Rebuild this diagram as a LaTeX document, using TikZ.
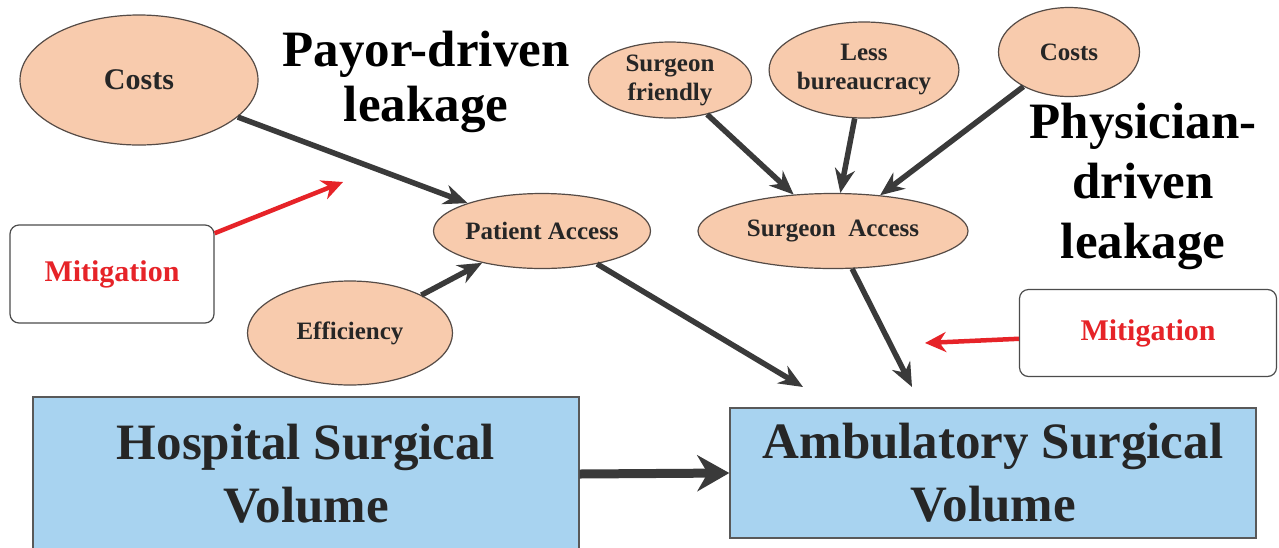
\documentclass[tikz,border=0pt]{standalone}
\usepackage{fontspec}
\setmainfont{Liberation Serif}
\usetikzlibrary{shapes.geometric,arrows.meta}

\definecolor{peach}{RGB}{248,203,173}
\definecolor{skyfill}{RGB}{168,211,240}
\definecolor{darkarrow}{RGB}{58,58,58}
\definecolor{mitred}{RGB}{230,35,40}
\definecolor{rimgray}{RGB}{85,75,70}

\newcommand{\txtsize}[2]{\fontsize{#1}{#2}\selectfont}

\begin{document}
\begin{tikzpicture}[x=1pt,y=-1pt,
  factor/.style={ellipse,draw=rimgray,line width=1.2pt,fill=peach,inner sep=0pt,
    font=\bfseries\txtsize{25}{29},align=center,text=black!85},
  volbox/.style={rectangle,draw=black!65,line width=1.4pt,fill=skyfill,inner sep=0pt,
    font=\bfseries\txtsize{51}{63},align=center,text=black!85},
  mitbox/.style={rectangle,rounded corners=9pt,draw=black!70,line width=1.2pt,fill=white,
    inner sep=0pt,font=\bfseries\txtsize{30}{30},text=mitred},
  heading/.style={inner sep=0pt,align=center},
  drive/.style={-{Stealth[length=24pt,width=20pt]},line width=5.5pt,draw=darkarrow},
  mitarrow/.style={-{Stealth[length=21pt,width=20pt]},line width=4.5pt,draw=mitred}]
\fill[white] (0,0) rectangle (1279,547);
\useasboundingbox (0,0) rectangle (1279,547);

% payor side
\node[factor,minimum width=238pt,minimum height=130pt,font=\bfseries\txtsize{30}{30}] (costA) at (139,80) {Costs};
\node[factor,minimum width=206pt,minimum height=75pt] (patient) at (542,231) {Patient Access};
\node[factor,minimum width=205pt,minimum height=104pt] (effic) at (350,333) {Efficiency};
\node[mitbox,minimum width=204pt,minimum height=98pt] (mitL) at (112,274) {Mitigation};
\node[heading,font=\bfseries\txtsize{51}{55}] (payor) at (426,82) {Payor-driven\\leakage};

% physician side
\node[factor,minimum width=163pt,minimum height=76pt] (friendly) at (670,80) {Surgeon\\friendly};
\node[factor,minimum width=186pt,minimum height=96pt] (bureau) at (864,70) {Less\\bureaucracy};
\node[factor,minimum width=141pt,minimum height=89pt] (costB) at (1069,52) {Costs};
\node[factor,minimum width=270pt,minimum height=75pt] (surgeon) at (833,231) {Surgeon\ \ Access};
\node[mitbox,minimum width=257pt,minimum height=87pt] (mitR) at (1148,333) {Mitigation};
\node[heading,font=\bfseries\txtsize{51}{60}] (physician) at (1143,186) {Physician-\\driven\\leakage};

% volumes
\node[volbox,minimum width=546pt,minimum height=154pt] (hosp) at (306,474) {Hospital Surgical\\Volume};
\node[volbox,minimum width=526pt,minimum height=130pt] (amb) at (993,473) {Ambulatory Surgical\\Volume};

\coordinate (inA) at (803,387);
\coordinate (inB) at (912,387);
\coordinate (hitL) at (343,182);
\coordinate (hitR) at (925,343);

\draw[drive] (costA) -- (patient);
\draw[drive] (effic) -- (patient);
\draw[drive] (friendly) -- (surgeon);
\draw[drive] (bureau) -- (surgeon);
\draw[drive] (costB) -- (surgeon);
\draw[drive] (patient) -- (inA);
\draw[drive] (surgeon) -- (inB);
\draw[mitarrow] (mitL) -- (hitL);
\draw[mitarrow] (mitR) -- (hitR);
\draw[-{Stealth[length=32pt,width=36pt]},line width=9pt,draw=darkarrow] (hosp.east) -- (amb.west);
\end{tikzpicture}
\end{document}
